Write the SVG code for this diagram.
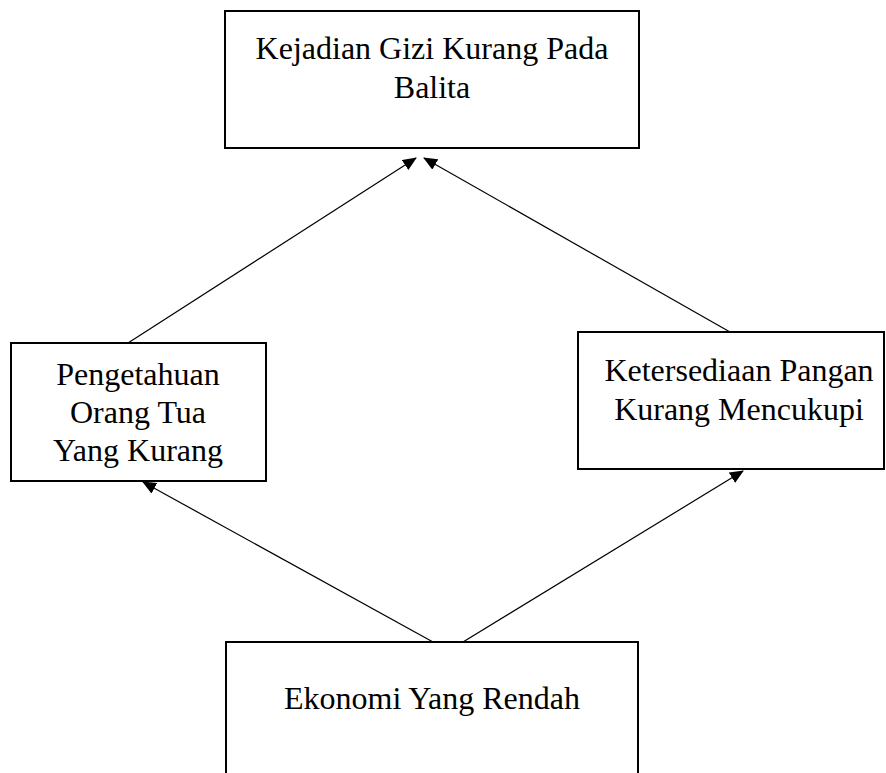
<svg xmlns="http://www.w3.org/2000/svg" width="886" height="773" viewBox="0 0 886 773">
<style>
.box{fill:#fff;stroke:#000;stroke-width:2}
.lbl{font-family:"Liberation Serif","Times New Roman",serif;font-size:32px;fill:#000;text-anchor:middle}
.edge{stroke:#000;stroke-width:1.2;fill:none;marker-end:url(#ah)}
</style>
<defs>
<marker id="ah" markerWidth="14" markerHeight="12" refX="13" refY="6" orient="auto" markerUnits="userSpaceOnUse">
<path d="M0,0 L14,6 L0,12 Z" fill="#000"/>
</marker>
</defs>
<rect width="886" height="773" fill="#fff"/>
<g id="connectors">
<line class="edge" x1="128" y1="343" x2="416" y2="158"/>
<line class="edge" x1="730" y1="332" x2="424" y2="158"/>
<line class="edge" x1="433" y1="642" x2="143" y2="482"/>
<line class="edge" x1="463" y1="642" x2="743" y2="471"/>
</g>
<g id="n_gizi">
<rect class="box" x="225" y="11" width="414" height="137"/>
<text class="lbl" x="432" y="59">Kejadian Gizi Kurang Pada</text>
<text class="lbl" x="432" y="98">Balita</text>
</g>
<g id="n_pengetahuan">
<rect class="box" x="11" y="343" width="255" height="138"/>
<text class="lbl" x="138" y="385">Pengetahuan</text>
<text class="lbl" x="138" y="423">Orang Tua</text>
<text class="lbl" x="138" y="461">Yang Kurang</text>
</g>
<g id="n_pangan">
<rect class="box" x="578" y="332" width="306" height="137"/>
<text class="lbl" x="739" y="381">Ketersediaan Pangan</text>
<text class="lbl" x="739" y="420">Kurang Mencukupi</text>
</g>
<g id="n_ekonomi">
<rect class="box" x="226" y="642" width="412" height="140"/>
<text class="lbl" x="432" y="709">Ekonomi Yang Rendah</text>
</g>
</svg>
